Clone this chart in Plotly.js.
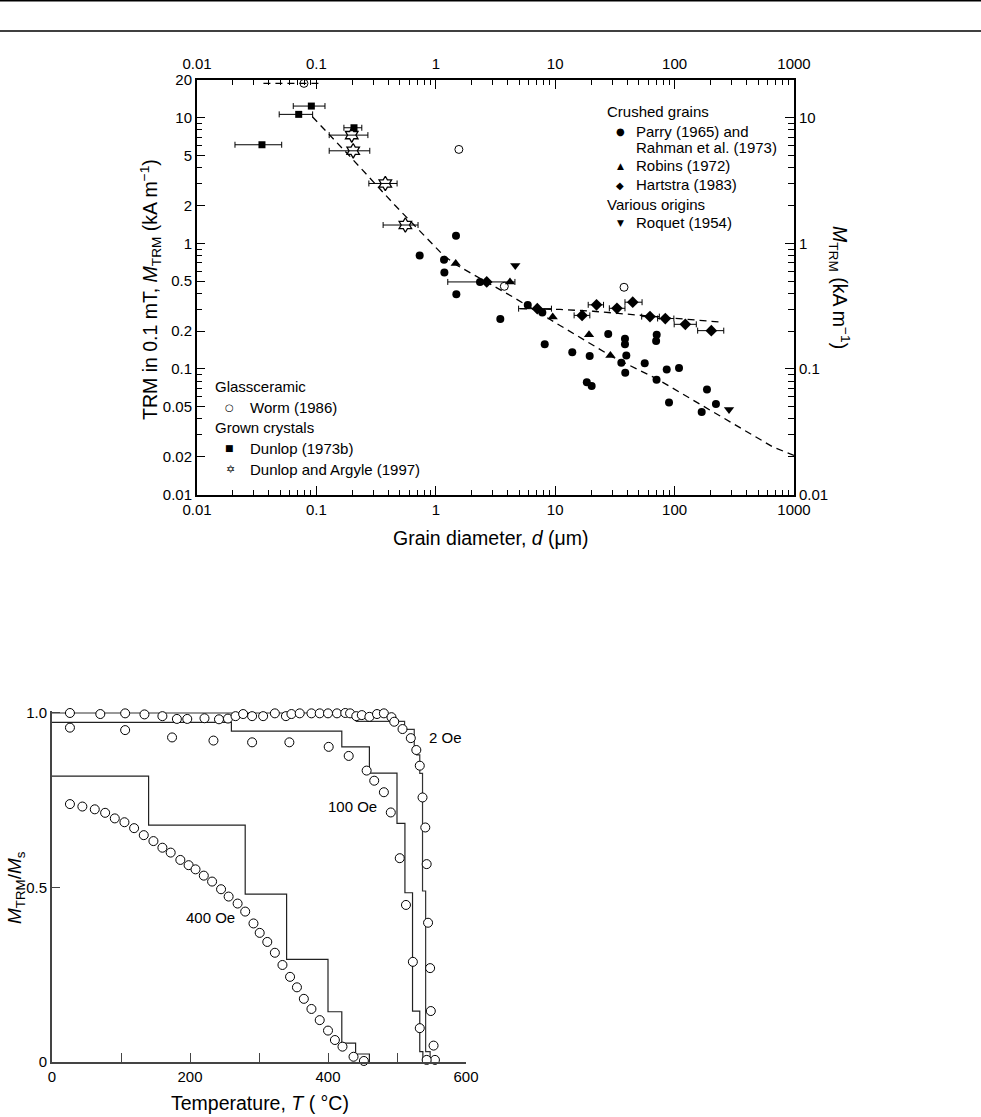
<!DOCTYPE html>
<html>
<head>
<meta charset="utf-8">
<script src="https://cdn.plot.ly/plotly-3.0.1.min.js"></script>
<style>html,body{margin:0;padding:0;background:#fff;}#chart{width:981px;height:1117px;}</style>
</head>
<body>
<div id="chart"></div>
<script>
// ---------- Top panel data: grain diameter d (µm) vs M_TRM (kA/m) ----------
const parryD = [0.733, 1.172, 1.18, 1.476, 1.486, 2.345, 3.47, 5.89, 7.8, 8.17, 13.9, 18.4, 19.45, 20.2, 27.8, 35.8, 38.4, 38.4, 38.6, 39.4, 56.2, 70, 70.6, 70.8, 85.9, 89.8, 108.9, 168.6, 186.7, 222];
const parryM = [0.80, 0.74, 0.585, 1.15, 0.393, 0.493, 0.25, 0.323, 0.281, 0.157, 0.136, 0.0785, 0.127, 0.073, 0.19, 0.112, 0.174, 0.157, 0.0933, 0.128, 0.111, 0.1667, 0.082, 0.1875, 0.099, 0.054, 0.1016, 0.0453, 0.0687, 0.0525];

const robinsD = [1.468, 4.18, 9.53, 19.2, 29];
const robinsM = [0.69, 0.493, 0.259, 0.1875, 0.128];

const hartD  = [2.67, 7.08, 16.8, 22.2, 32.9, 44.6, 62.2, 83.6, 123, 203];
const hartM  = [0.493, 0.302, 0.267, 0.324, 0.304, 0.34, 0.261, 0.252, 0.2266, 0.2018];
const hartLo = [1.26, 4.94, 14.4, 18.9, 28.4, 38.4, 53, 72.1, 99.2, 156];
const hartHi = [4.6, 9.3, 19.5, 25.4, 38.4, 53.4, 74.5, 98.6, 152, 258];

const roquetD = [4.63, 285.6];
const roquetM = [0.665, 0.0476];

const wormD = [0.0787, 1.56, 3.75, 37.7];
const wormM = [18.8, 5.6, 0.455, 0.447];
const wormLineD = [0.036, 0.113];
const wormLineM = [18.8, 18.8];

const dun73D  = [0.035, 0.0711, 0.0907, 0.2065];
const dun73M  = [6.1, 10.65, 12.4, 8.33];
const dun73Lo = [0.0208, 0.0488, 0.064, 0.170];
const dun73Hi = [0.0512, 0.093, 0.118, 0.240];

const argD  = [0.1977, 0.2033, 0.3777, 0.556];
const argM  = [7.28, 5.46, 3.0, 1.40];
const argLo = [0.128, 0.128, 0.275, 0.362];
const argHi = [0.27, 0.28, 0.474, 0.71];

const fitD = [0.0925, 0.192, 0.455, 0.984, 1.156, 1.5, 4.43, 10.97, 30.5, 70.8, 671, 1000];
const fitM = [10.2, 4.9, 2.01, 0.937, 0.804, 0.67, 0.374, 0.222, 0.124, 0.0835, 0.0238, 0.0205];

const hfitD = [5.07, 10.97, 20.8, 54.3, 185, 248];
const hfitM = [0.302, 0.298, 0.288, 0.265, 0.241, 0.236];

// tick labels
const xTickVals = [0.01, 0.1, 1, 10, 100, 1000];
const xTickText = ['0.01', '0.1', '1', '10', '100', '1000'];
const yLeftVals = [0.01, 0.02, 0.05, 0.1, 0.2, 0.5, 1, 2, 5, 10, 20];
const yLeftText = ['0.01', '0.02', '0.05', '0.1', '0.2', '0.5', '1', '2', '5', '10', '20'];
const yRightVals = [0.01, 0.1, 1, 10];
const yRightText = ['0.01', '0.1', '1', '10'];

// legend texts
const legendGroup1 = 'Crushed grains';
const legendGroup2 = 'Various origins';
const legendGroup3 = 'Glassceramic';
const legendGroup4 = 'Grown crystals';
const nameParry1 = 'Parry (1965) and';
const nameParry2 = 'Rahman et al. (1973)';
const nameRobins = 'Robins (1972)';
const nameHart = 'Hartstra (1983)';
const nameRoquet = 'Roquet (1954)';
const nameWorm = 'Worm (1986)';
const nameDun73 = 'Dunlop (1973b)';
const nameArg = 'Dunlop and Argyle (1997)';

// ---------- Bottom panel data: T (°C) vs M_TRM/M_s ----------
const oe2T = [26, 70, 106, 134, 160, 181, 196, 221, 242, 255, 266, 277, 290, 306, 323, 339, 347, 359, 376, 388, 400, 413, 425, 432, 441, 449, 460, 471, 481, 492, 496, 508, 520, 528, 533, 537, 541, 543, 545, 548, 549, 553, 555];
const oe2M = [1.0, 0.997, 0.999, 0.996, 0.991, 0.983, 0.983, 0.985, 0.982, 0.984, 0.991, 0.997, 0.991, 0.991, 0.999, 0.991, 0.997, 0.999, 0.999, 0.999, 0.999, 0.999, 1.0, 0.999, 0.991, 0.994, 0.989, 0.997, 0.999, 0.988, 0.975, 0.954, 0.928, 0.894, 0.849, 0.758, 0.672, 0.567, 0.399, 0.269, 0.146, 0.047, 0.006];

const oe100T = [26, 106, 174, 234, 290, 344, 401, 430, 456, 467, 481, 491, 504, 513, 523, 533, 543];
const oe100M = [0.958, 0.951, 0.930, 0.921, 0.916, 0.916, 0.903, 0.877, 0.835, 0.806, 0.773, 0.715, 0.584, 0.450, 0.287, 0.097, 0.006];

const oe400T = [26, 44, 62, 77, 91, 105, 119, 133, 147, 160, 172, 186, 198, 208, 220, 232, 245, 256, 269, 280, 292, 301, 312, 323, 334, 345, 355, 365, 376, 388, 400, 410, 421, 437, 452];
const oe400M = [0.739, 0.732, 0.724, 0.714, 0.698, 0.687, 0.670, 0.650, 0.633, 0.614, 0.600, 0.579, 0.564, 0.552, 0.534, 0.517, 0.495, 0.474, 0.454, 0.431, 0.397, 0.370, 0.344, 0.313, 0.278, 0.244, 0.214, 0.181, 0.152, 0.120, 0.090, 0.063, 0.044, 0.015, 0.003];

const step2T = [0, 441, 511, 525, 528.5, 533, 537, 541.5, 548];
const step2M = [1.0, 0.976, 0.953, 0.903, 0.880, 0.827, 0.49, 0.030, 0];
const step100T = [0, 260, 420, 460, 500, 511.5, 522.5, 533, 537.5];
const step100M = [0.973, 0.948, 0.903, 0.828, 0.684, 0.485, 0.146, 0.030, 0];
const step400T = [0, 140, 280, 340, 400, 420, 440, 460];
const step400M = [0.819, 0.679, 0.481, 0.294, 0.144, 0.054, 0.023, 0];

const bxTickVals = [0, 200, 400, 600];
const bxTickText = ['0', '200', '400', '600'];
const byTickVals = [0, 0.5, 1.0];
const byTickText = ['0', '0.5', '1.0'];

// ---------- helpers ----------
const W = 981, H = 1117;
const px = v => v / W;
const py = v => 1 - v / H;
const plus  = (hi, d) => hi.map((h, i) => h - d[i]);
const minus = (lo, d) => d.map((v, i) => v - lo[i]);
const logMinor = (a, b) => { const out = []; for (let e = a; e < b; e++) for (let k = 2; k <= 9; k++) out.push(k * Math.pow(10, e)); return out; };
const FONT = 'Liberation Sans, Arial, Helvetica, sans-serif';
const SYM = 'DejaVu Sans, sans-serif';
const errX = (lo, hi, d) => ({type: 'data', symmetric: false, array: plus(hi, d), arrayminus: minus(lo, d), color: '#000', thickness: 1, width: 3});
const dashed = {color: '#000', width: 1.3, dash: '7px,5px'};

const traces = [
  {x: fitD, y: fitM, mode: 'lines', line: dashed, name: 'fit', showlegend: false},
  {x: hfitD, y: hfitM, mode: 'lines', line: dashed, name: 'Hartstra fit', showlegend: false},
  {x: wormLineD, y: wormLineM, mode: 'lines', line: dashed, name: 'Worm range', showlegend: false},
  {x: parryD, y: parryM, mode: 'markers', name: nameParry1 + ' ' + nameParry2, showlegend: false,
   marker: {symbol: 'circle', size: 8, color: '#000'}, cliponaxis: false},
  {x: robinsD, y: robinsM, mode: 'markers', name: nameRobins, showlegend: false,
   marker: {symbol: 'triangle-up', size: 9, color: '#000'}, cliponaxis: false},
  {x: hartD, y: hartM, mode: 'markers', name: nameHart, showlegend: false,
   marker: {symbol: 'diamond', size: 9, color: '#000'}, error_x: errX(hartLo, hartHi, hartD), cliponaxis: false},
  {x: roquetD, y: roquetM, mode: 'markers', name: nameRoquet, showlegend: false,
   marker: {symbol: 'triangle-down', size: 9, color: '#000'}, cliponaxis: false},
  {x: wormD, y: wormM, mode: 'markers', name: nameWorm, showlegend: false,
   marker: {symbol: 'circle-open', size: 8, color: '#000', line: {width: 1}}, cliponaxis: false},
  {x: dun73D, y: dun73M, mode: 'markers', name: nameDun73, showlegend: false,
   marker: {symbol: 'square', size: 7, color: '#000'}, error_x: errX(dun73Lo, dun73Hi, dun73D), cliponaxis: false},
  {x: argD, y: argM, mode: 'markers', name: nameArg, showlegend: false,
   marker: {symbol: 'hexagram-open', size: 11, color: '#000', line: {width: 1.3}}, error_x: errX(argLo, argHi, argD), cliponaxis: false},
  {x: [], y: [], xaxis: 'x2', yaxis: 'y2', mode: 'markers', showlegend: false},
  // bottom panel
  {x: step2T, y: step2M, xaxis: 'x3', yaxis: 'y3', mode: 'lines', line: {shape: 'hv', color: '#333', width: 1.2}, showlegend: false},
  {x: step100T, y: step100M, xaxis: 'x3', yaxis: 'y3', mode: 'lines', line: {shape: 'hv', color: '#222', width: 1.2}, showlegend: false},
  {x: step400T, y: step400M, xaxis: 'x3', yaxis: 'y3', mode: 'lines', line: {shape: 'hv', color: '#222', width: 1.2}, showlegend: false},
  {x: oe2T, y: oe2M, xaxis: 'x3', yaxis: 'y3', mode: 'markers', marker: {symbol: 'circle', size: 9, color: '#fff', line: {color: '#000', width: 1}}, showlegend: false, cliponaxis: false},
  {x: oe100T, y: oe100M, xaxis: 'x3', yaxis: 'y3', mode: 'markers', marker: {symbol: 'circle', size: 9, color: '#fff', line: {color: '#000', width: 1}}, showlegend: false, cliponaxis: false},
  {x: oe400T, y: oe400M, xaxis: 'x3', yaxis: 'y3', mode: 'markers', marker: {symbol: 'circle', size: 9, color: '#fff', line: {color: '#000', width: 1}}, showlegend: false, cliponaxis: false}
];

const topDomX = [px(197), px(794)];
const topDomY = [py(494.5), py(80)];
const logAxis = (extra) => Object.assign({
  type: 'log', showgrid: false, zeroline: false, showline: true, linecolor: '#000', linewidth: 2,
  ticks: 'inside', tickcolor: '#000', tickwidth: 1, ticklen: 9, tickmode: 'array',
  tickfont: {size: 15, family: FONT, color: '#000'}
}, extra);

// legend block (text + symbol glyphs)
const leftText = (x, y, t) => ({xref: 'paper', yref: 'paper', x: px(x), y: py(y), text: t, showarrow: false, xanchor: 'left', yanchor: 'middle', font: {size: 15, family: FONT, color: '#000'}});
const glyph = (x, y, t, s) => ({xref: 'paper', yref: 'paper', x: px(x), y: py(y), text: t, showarrow: false, xanchor: 'center', yanchor: 'middle', font: {size: s, family: SYM, color: '#000'}});

const legendAnn = [
  leftText(605, 111, legendGroup1),
  glyph(620, 132, '●', 10), leftText(634, 131, nameParry1),
  leftText(634, 147, nameParry2),
  glyph(620, 166, '▲', 9), leftText(634, 165, nameRobins),
  glyph(620, 185, '◆', 10), leftText(634, 184, nameHart),
  leftText(605, 205, legendGroup2),
  glyph(620, 223, '▼', 9), leftText(634, 222, nameRoquet),
  leftText(213, 386, legendGroup3),
  glyph(229, 407, '○', 10), leftText(248, 407, nameWorm),
  leftText(213, 427, legendGroup4),
  glyph(229, 448, '■', 9), leftText(248, 448, nameDun73),
  glyph(230, 470, '✡', 11), leftText(248, 469, nameArg)
];

const layout = {
  width: W, height: H,
  margin: {l: 0, r: 0, t: 0, b: 0},
  paper_bgcolor: '#fff', plot_bgcolor: 'rgba(0,0,0,0)',
  font: {family: FONT, color: '#000', size: 15},
  showlegend: false,
  xaxis: logAxis({range: [-2, 3], domain: topDomX, anchor: 'y', side: 'bottom',
    tickvals: xTickVals, ticktext: xTickText,
    minor: {tickmode: 'array', tickvals: logMinor(-2, 3), ticks: 'inside', ticklen: 5, tickwidth: 1, tickcolor: '#000'}}),
  xaxis2: logAxis({range: [-2, 3], domain: topDomX, anchor: 'y', overlaying: 'x', side: 'top', ticklabelstandoff: 3,
    tickvals: xTickVals, ticktext: xTickText,
    minor: {tickmode: 'array', tickvals: logMinor(-2, 3), ticks: 'inside', ticklen: 5, tickwidth: 1, tickcolor: '#000'}}),
  yaxis: logAxis({range: [-2, Math.log10(20)], domain: topDomY, anchor: 'x', side: 'left', ticklen: 8,
    tickvals: yLeftVals, ticktext: yLeftText,
    minor: {tickmode: 'array', tickvals: [0.03,0.04,0.06,0.07,0.08,0.09,0.3,0.4,0.6,0.7,0.8,0.9,3,4,6,7,8,9], ticks: 'inside', ticklen: 5, tickwidth: 1, tickcolor: '#000'}}),
  yaxis2: logAxis({range: [-2, Math.log10(20)], domain: topDomY, anchor: 'x', overlaying: 'y', side: 'right',
    tickvals: yRightVals, ticktext: yRightText,
    minor: {tickmode: 'array', tickvals: logMinor(-2, 1).concat([20]), ticks: 'inside', ticklen: 6, tickwidth: 1, tickcolor: '#000'}}),
  xaxis3: {range: [0, 600], domain: [px(52), px(466)], anchor: 'y3', showgrid: false, zeroline: false,
    showline: true, linecolor: '#444', linewidth: 2, ticks: 'inside', ticklen: 9, tickwidth: 1, tickcolor: '#444',
    tickmode: 'array', tickvals: bxTickVals, ticktext: bxTickText,
    minor: {tickmode: 'array', tickvals: [100, 300, 500], ticks: 'inside', ticklen: 9, tickwidth: 1, tickcolor: '#444'},
    tickfont: {size: 15, family: FONT, color: '#000'}},
  yaxis3: {range: [0, 1.005], domain: [py(1062), py(1062 - 1.005 * 349)], anchor: 'x3', showgrid: false, zeroline: false,
    showline: true, linecolor: '#444', linewidth: 2, ticks: 'inside', ticklen: 8, tickwidth: 1, tickcolor: '#444',
    tickmode: 'array', tickvals: byTickVals, ticktext: byTickText,
    tickfont: {size: 15, family: FONT, color: '#000'}},
  shapes: [
    {type: 'line', xref: 'paper', yref: 'paper', x0: 0, x1: 1, y0: py(0.8), y1: py(0.8), line: {color: '#000', width: 1.5}},
    {type: 'line', xref: 'paper', yref: 'paper', x0: 0, x1: 1, y0: py(31), y1: py(31), line: {color: '#000', width: 1.5}}
  ],
  annotations: [
    {xref: 'paper', yref: 'paper', x: px(490), y: py(538), text: 'Grain diameter, <i>d</i> (μm)', showarrow: false, font: {size: 19.5, family: FONT}, xanchor: 'center', yanchor: 'middle'},
    {xref: 'paper', yref: 'paper', x: px(150), y: py(290), text: 'TRM in 0.1 mT, <i>M</i><sub>TRM</sub> (kA m<sup>−1</sup>)', textangle: -90, showarrow: false, font: {size: 19.5, family: FONT}, xanchor: 'center', yanchor: 'middle'},
    {xref: 'paper', yref: 'paper', x: px(840), y: py(287), text: '<i>M</i><sub>TRM</sub> (kA m<sup>−1</sup>)', textangle: 90, showarrow: false, font: {size: 19.5, family: FONT}, xanchor: 'center', yanchor: 'middle'},
    {xref: 'paper', yref: 'paper', x: px(260), y: py(1103), text: 'Temperature, <i>T</i> ( °C)', showarrow: false, font: {size: 19.5, family: FONT}, xanchor: 'center', yanchor: 'middle'},
    {xref: 'paper', yref: 'paper', x: px(16), y: py(888), text: '<i>M</i><sub>TRM</sub>/<i>M</i><sub>s</sub>', textangle: -90, showarrow: false, font: {size: 19, family: FONT}, xanchor: 'center', yanchor: 'middle'},
    {xref: 'x3', yref: 'y3', x: 570, y: 0.931, text: '2 Oe', showarrow: false, font: {size: 15, family: FONT}},
    {xref: 'x3', yref: 'y3', x: 435, y: 0.731, text: '100 Oe', showarrow: false, font: {size: 15, family: FONT}},
    {xref: 'x3', yref: 'y3', x: 229, y: 0.415, text: '400 Oe', showarrow: false, font: {size: 15, family: FONT}}
  ].concat(legendAnn)
};

Plotly.newPlot('chart', traces, layout, {staticPlot: true, displayModeBar: false});
</script>
</body>
</html>
